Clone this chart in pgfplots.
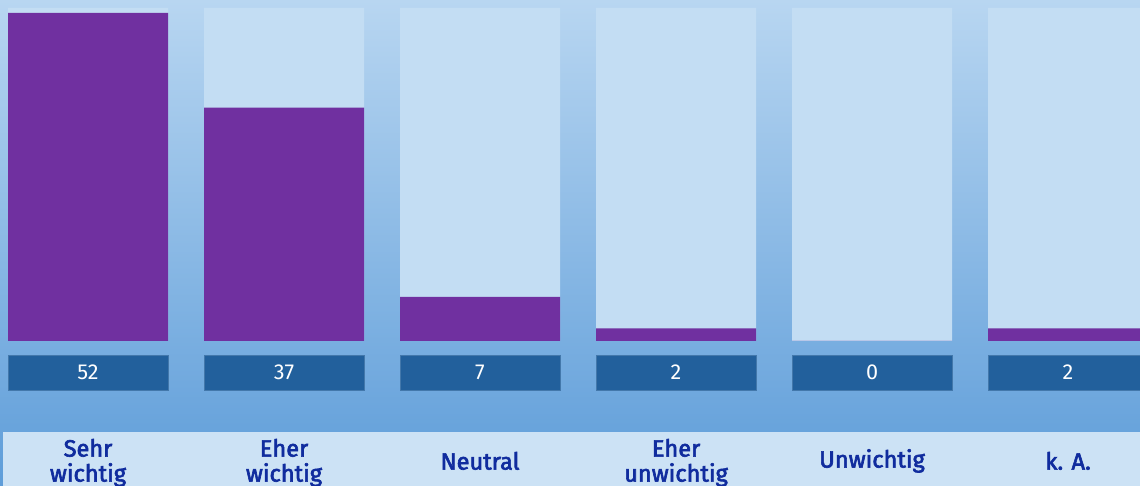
\documentclass[border=0pt]{standalone}
\usepackage{pgfplots}
\pgfplotsset{compat=1.18}
\usepackage{fontspec}
\setmainfont{Fira Sans}
\newfontfamily\labfont[FakeBold=2.6]{Fira Sans}
\definecolor{bgtop}{HTML}{B8D6F1}
\definecolor{bgbot}{HTML}{5E9DD9}
\definecolor{colbg}{HTML}{C3DDF3}
\definecolor{purp}{HTML}{7030A0}
\definecolor{boxblue}{HTML}{22609C}
\definecolor{strip}{HTML}{CCE2F5}
\definecolor{labblue}{HTML}{102C9E}
\begin{document}
\begin{tikzpicture}
\begin{axis}[
  scale only axis, width=570pt, height=243pt,
  xmin=-0.449, xmax=5.367, ymin=-22.98, ymax=54.04,
  axis line style={draw=none}, major tick length=0pt,
  ytick=\empty, xtick=\empty,
  clip=true,
]
\fill[top color=bgtop, bottom color=bgbot] (rel axis cs:0,0) rectangle (rel axis cs:1,1);
\fill[strip] (axis cs:-0.434,-14.42) rectangle (rel axis cs:1,0);
% background columns
\addplot[ybar, bar width=0.8163, bar shift=0pt, fill=colbg, draw=none]
  coordinates {(0,52.77) (1,52.77) (2,52.77) (3,52.77) (4,52.77) (5,52.77)};
% values
\addplot[ybar, bar width=0.8163, bar shift=0pt, fill=purp, draw=none]
  coordinates {(0,52) (1,37) (2,7) (3,2) (4,0) (5,2)};
% value boxes
\addplot[draw=none, mark=none, point meta=explicit symbolic,
  nodes near coords, nodes near coords align=center,
  every node near coord/.style={fill=boxblue, draw=boxblue!85!white, anchor=center, overlay,
    minimum width=80pt, minimum height=17.5pt, inner sep=0pt, text=white,
    font=\fontsize{10.8}{11}\selectfont}]
  coordinates {(0,-4.99) [52] (1,-4.99) [37] (2,-4.99) [7] (3,-4.99) [2] (4,-4.99) [0] (5,-4.99) [2]};
% category labels
\addplot[draw=none, mark=none,
  nodes near coords={\ifcase\coordindex Sehr\\wichtig\or Eher\\wichtig\or Neutral\or Eher\\unwichtig\or Unwichtig\or k. A.\fi},
  nodes near coords align=center,
  every node near coord/.style={anchor=center, align=center, overlay, inner sep=0pt,
    text=labblue, font=\fontsize{11.8}{12.5}\labfont}]
  coordinates {(0,-19.3) (1,-19.3) (2,-19.0) (3,-19.3) (4,-19.0) (5,-19.0)};
\end{axis}
\end{tikzpicture}
\end{document}
